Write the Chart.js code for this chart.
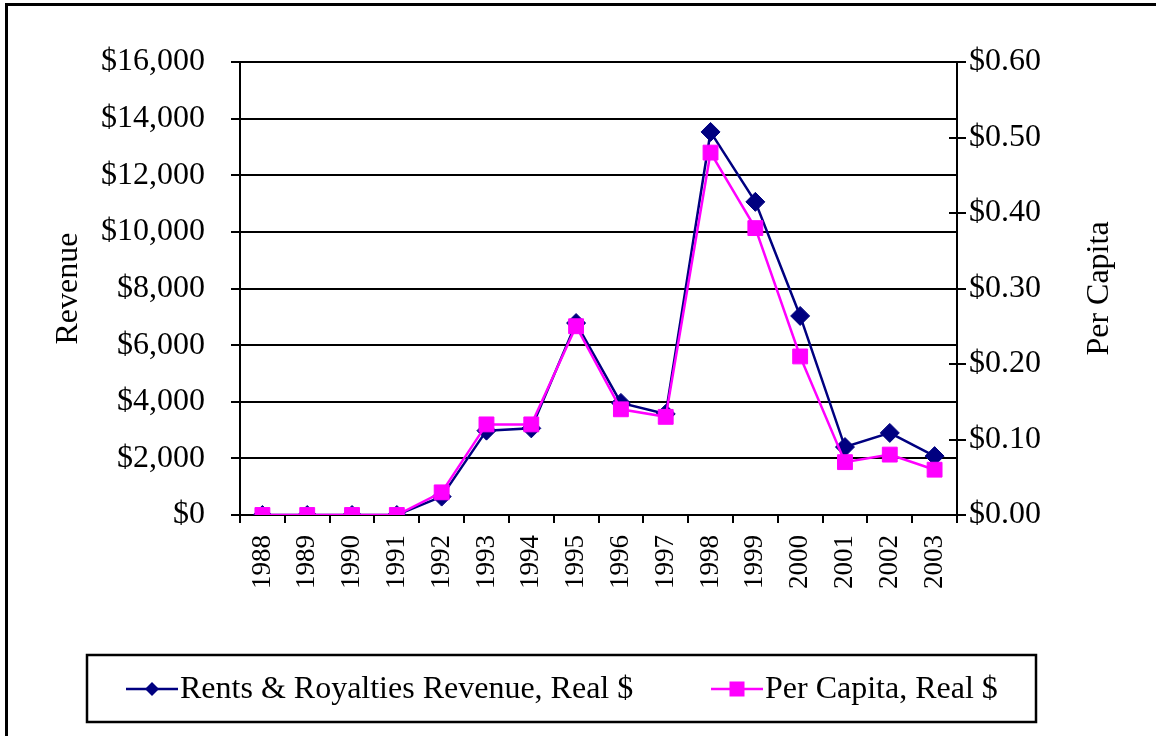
<!DOCTYPE html>
<html>
<head>
<meta charset="utf-8">
<script src="https://cdn.jsdelivr.net/npm/chart.js@4.4.0/dist/chart.umd.min.js"></script>
<style>
  html, body { margin:0; padding:0; background:#fff; overflow:hidden; }
  #wrap { position:relative; width:1156px; height:736px; }
  #chart { position:absolute; left:0; top:0; }
  #frame { position:absolute; left:5px; top:3px; width:1300px; height:900px; border:3px solid #000; pointer-events:none; }
</style>
</head>
<body>
<div id="wrap">
  <canvas id="chart" width="1156" height="736"></canvas>
  <div id="frame"></div>
</div>
<script>
const years = ['1988','1989','1990','1991','1992','1993','1994','1995','1996','1997','1998','1999','2000','2001','2002','2003'];
const revenue = [0, 0, 0, 0, 650, 2980, 3060, 6780, 3960, 3570, 13530, 11060, 7030, 2400, 2900, 2080];
const perCapita = [0, 0, 0, 0, 0.03, 0.12, 0.12, 0.25, 0.14, 0.13, 0.48, 0.38, 0.21, 0.07, 0.08, 0.06];
const seriesNames = ['Rents & Royalties Revenue, Real $', 'Per Capita, Real $'];
const axisTitles = ['Revenue', 'Per Capita'];

const FONT = '"Liberation Serif", "Times New Roman", serif';
const NAVY = '#000080';
const MAGENTA = '#FF00FF';

const overlay = {
  id: 'overlay',
  afterDraw(chart) {
    const { ctx, chartArea: ca, scales } = chart;
    ctx.save();
    // inner tick marks on right axis
    ctx.strokeStyle = '#000';
    ctx.lineWidth = 2;
    scales.y1.ticks.forEach(t => {
      const y = Math.round(scales.y1.getPixelForValue(t.value));
      ctx.beginPath();
      ctx.moveTo(ca.right - 8, y);
      ctx.lineTo(ca.right, y);
      ctx.stroke();
    });
    // axis titles
    ctx.fillStyle = '#000';
    ctx.font = '32px ' + FONT;
    ctx.textAlign = 'center';
    ctx.textBaseline = 'middle';
    const cy = (ca.top + ca.bottom) / 2;
    ctx.save(); ctx.translate(69, cy); ctx.rotate(-Math.PI / 2); ctx.fillText(axisTitles[0], 0, 0); ctx.restore();
    ctx.save(); ctx.translate(1100, cy); ctx.rotate(-Math.PI / 2); ctx.fillText(axisTitles[1], 0, 0); ctx.restore();

    // legend box
    ctx.lineWidth = 2.5;
    ctx.strokeStyle = '#000';
    ctx.strokeRect(87, 655, 949, 67);
    const ly = 689;
    const ds = chart.data.datasets;
    const items = [
      { x: 126, d: ds[0] },
      { x: 711, d: ds[1] }
    ];
    items.forEach(it => {
      ctx.strokeStyle = it.d.borderColor;
      ctx.lineWidth = it.d.borderWidth;
      ctx.beginPath(); ctx.moveTo(it.x, ly); ctx.lineTo(it.x + 52, ly); ctx.stroke();
      ctx.fillStyle = it.d.pointBackgroundColor;
      const mx = it.x + 26;
      if (it.d.pointStyle === 'rectRot') {
        ctx.beginPath();
        ctx.moveTo(mx, ly - 7); ctx.lineTo(mx + 7, ly); ctx.lineTo(mx, ly + 7); ctx.lineTo(mx - 7, ly);
        ctx.closePath(); ctx.fill();
      } else {
        ctx.fillRect(mx - 7.5, ly - 7.5, 15, 15);
      }
      ctx.fillStyle = '#000';
      ctx.textAlign = 'left';
      ctx.font = '32px ' + FONT;
      ctx.fillText(it.d.label, it.x + 54, ly + 1);
    });
    ctx.restore();
  }
};

new Chart(document.getElementById('chart'), {
  type: 'line',
  data: {
    labels: years,
    datasets: [
      {
        label: seriesNames[0],
        data: revenue,
        yAxisID: 'y',
        borderColor: NAVY,
        backgroundColor: NAVY,
        pointBackgroundColor: NAVY,
        pointBorderColor: NAVY,
        borderWidth: 2.5,
        pointStyle: 'rectRot',
        pointRadius: 9.5,
        pointBorderWidth: 1,
        tension: 0,
        order: 1
      },
      {
        label: seriesNames[1],
        data: perCapita,
        yAxisID: 'y1',
        borderColor: MAGENTA,
        backgroundColor: MAGENTA,
        pointBackgroundColor: MAGENTA,
        pointBorderColor: MAGENTA,
        borderWidth: 2.5,
        pointStyle: 'rect',
        pointRadius: 10.5,
        pointBorderWidth: 1,
        tension: 0,
        order: 0
      }
    ]
  },
  options: {
    responsive: false,
    animation: false,
    events: [],
    layout: { padding: { left: 0, right: 0, top: 62, bottom: 121 } },
    plugins: { legend: { display: false }, tooltip: { enabled: false }, title: { display: false } },
    scales: {
      x: {
        type: 'category',
        offset: true,
        grid: { display: true, drawOnChartArea: false, drawTicks: true, tickLength: 8, color: '#000', lineWidth: 2, offset: true },
        border: { display: true, color: '#000', width: 2 },
        ticks: { color: '#000', font: { family: FONT, size: 27 }, minRotation: 90, maxRotation: 90, padding: 12, autoSkip: false },
        afterFit(s) { s.height = 100; }
      },
      y: {
        position: 'left',
        min: 0, max: 16000,
        ticks: { stepSize: 2000, color: '#000', font: { family: FONT, size: 32 }, padding: 26,
          callback: v => '$' + v.toLocaleString('en-US') },
        grid: { color: '#000', lineWidth: 2, drawTicks: true, tickLength: 9 },
        border: { display: true, color: '#000', width: 2 },
        afterFit(s) { s.width = 240; }
      },
      y1: {
        position: 'right',
        min: 0, max: 0.6,
        ticks: { stepSize: 0.1, color: '#000', font: { family: FONT, size: 32 }, padding: 3,
          callback: v => '$' + Number(v).toFixed(2) },
        grid: { drawOnChartArea: false, color: '#000', lineWidth: 2, drawTicks: true, tickLength: 9 },
        border: { display: true, color: '#000', width: 2 },
        afterFit(s) { s.width = 199; }
      }
    }
  },
  plugins: [overlay]
});
</script>
</body>
</html>
